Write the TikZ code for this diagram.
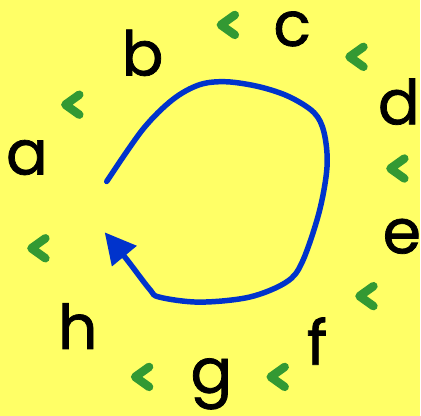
\documentclass[tikz,border=0pt]{standalone}
\usepackage{fontspec}
\setmainfont{Poppins}
\newfontfamily\letterfont{Poppins}[FakeBold=1.2]
\usetikzlibrary{arrows.meta}
\definecolor{bgyel}{RGB}{255,255,102}
\definecolor{chevgreen}{RGB}{51,153,51}
\definecolor{loopblue}{RGB}{0,51,204}
\tikzset{
  letter/.style={font=\letterfont\fontsize{62}{62}\selectfont, text=black, inner sep=0pt},
  chev/.pic={\draw[chevgreen, line width=8.5pt, line cap=round, line join=round] (7.5,-10) -- (-6.5,0) -- (7.5,10);},
  loopline/.style={loopblue, line width=5.5pt, line cap=round, -{Triangle[length=31pt,width=31pt]}}
}
\begin{document}
\begin{tikzpicture}[x=1pt,y=-1pt]
\path[fill=bgyel] (0,0) rectangle (421,417);
\node[letter] (a) at (27,158) {a};
\node[letter] (b) at (143,53) {b};
\node[letter] (c) at (293,29) {c};
\node[letter] (d) at (400,102) {d};
\node[letter] (e) at (403,237) {e};
\node[letter] (f) at (318,342) {f};
\node[letter] (g) at (212,385) {g};
\node[letter] (h) at (78,327) {h};
\pic at (72,105) {chev};
\pic at (228,25) {chev};
\pic at (357,57) {chev};
\pic at (398,169) {chev};
\pic at (367,297) {chev};
\pic at (278,378) {chev};
\pic at (142,378) {chev};
\pic at (38,249) {chev};
\coordinate (start) at (107,182);
\coordinate (tip) at (105,233);
\draw[loopline] plot[smooth, tension=0.55] coordinates {(107,182) (143,130) (173,100) (200,85) (227,82) (260,87) (290,97) (315,113) (325,133) (328,167) (320,213) (303,263) (287,283) (250,298) (200,303) (160,298) (150,290) (127,260) (105,233)};
\end{tikzpicture}
\end{document}
